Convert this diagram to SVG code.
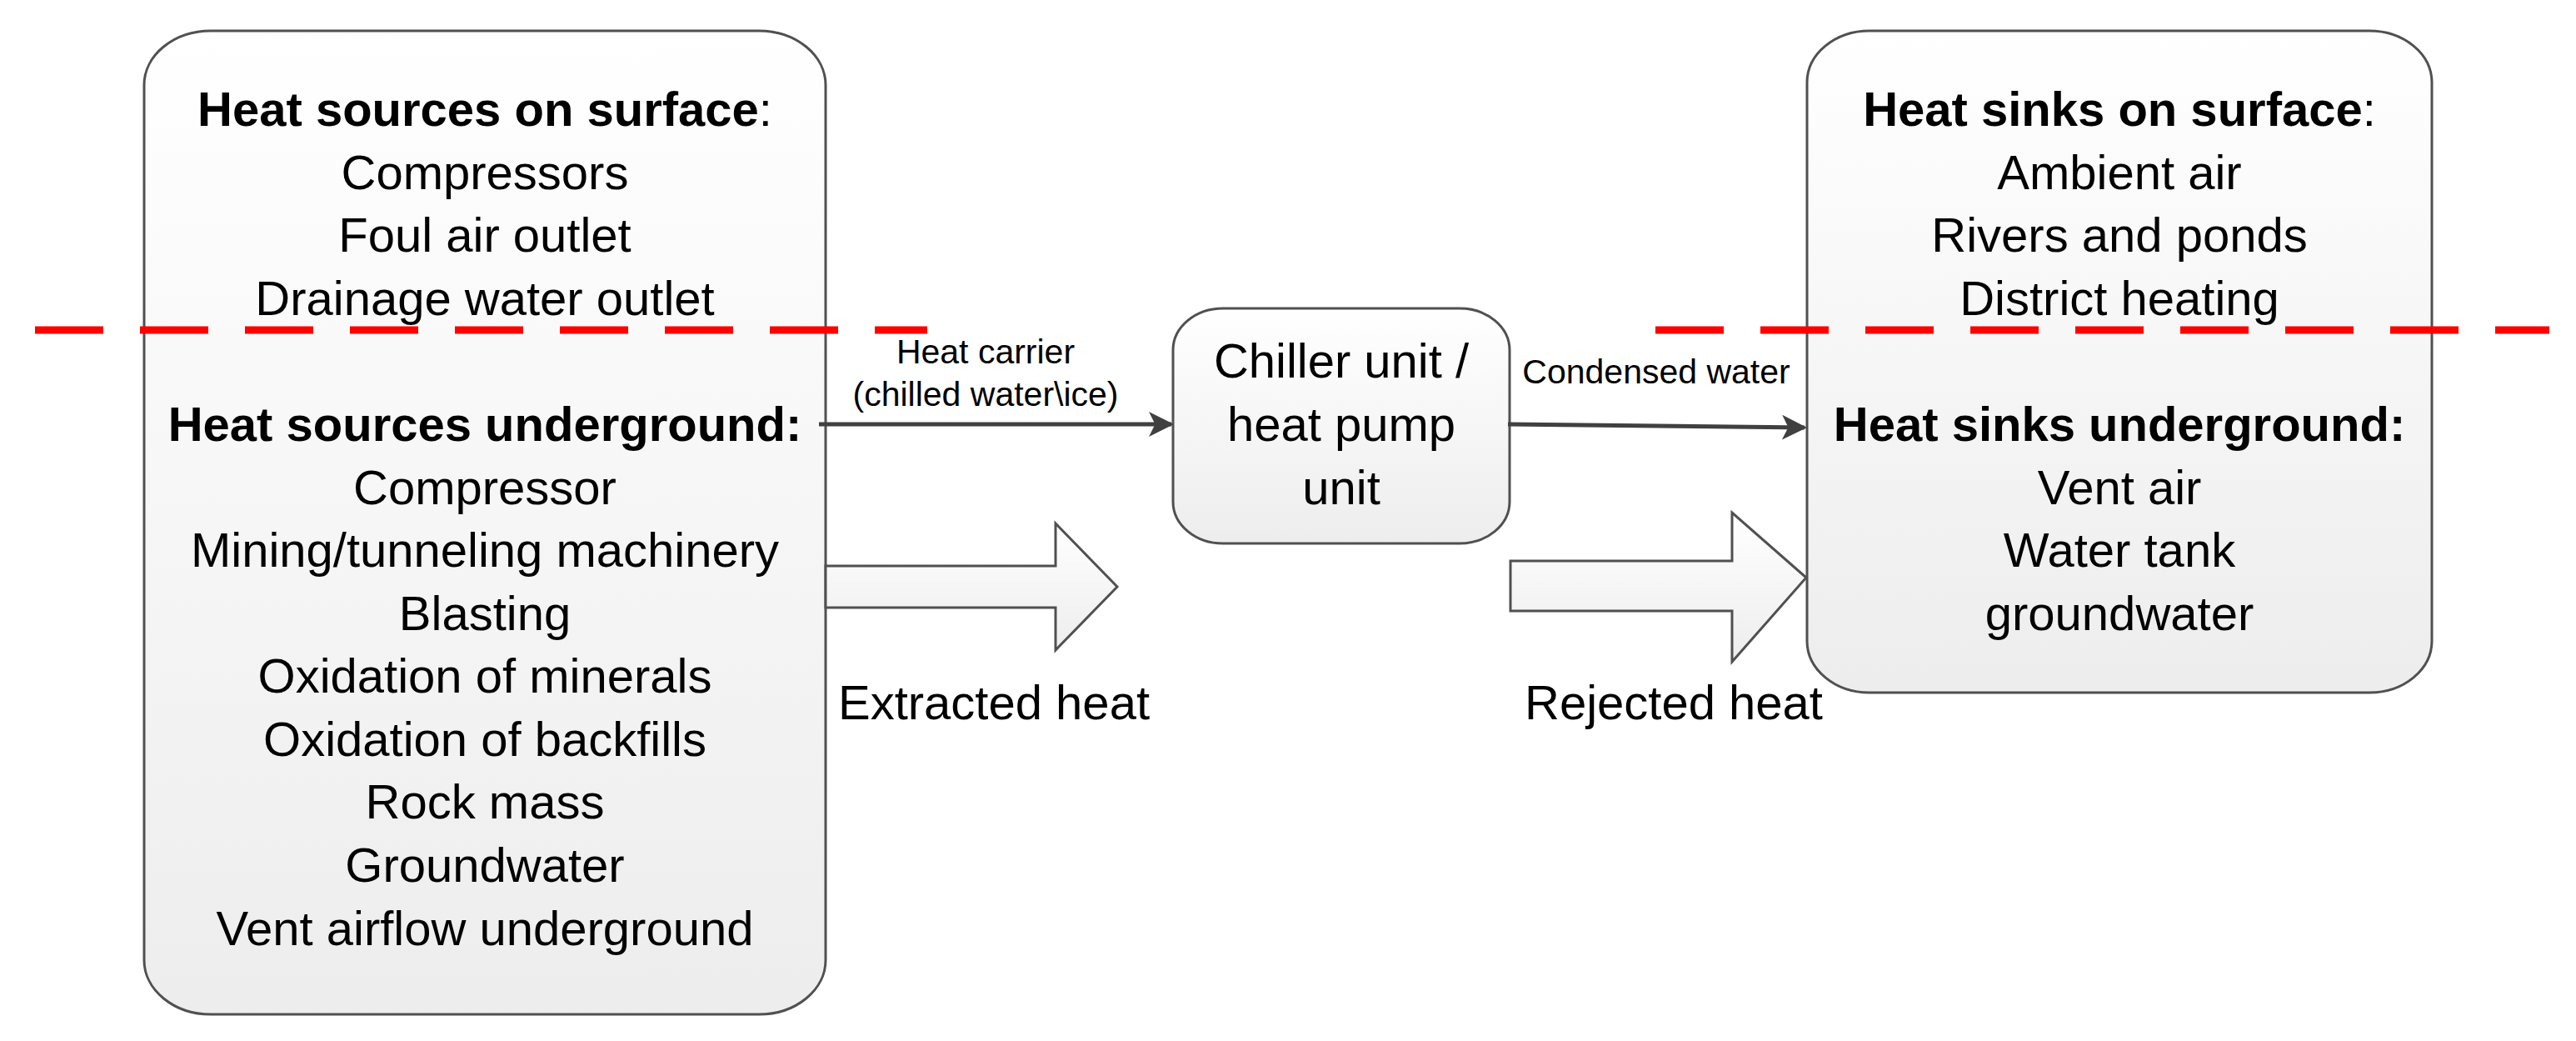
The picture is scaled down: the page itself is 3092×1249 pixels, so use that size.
<svg xmlns="http://www.w3.org/2000/svg" width="3092" height="1249" viewBox="0 0 3092 1249">
<style>
.box{stroke:#505050;stroke-width:3;fill:url(#g)}
.t{font-family:"Liberation Sans",Arial,sans-serif;font-size:58px;text-anchor:middle;fill:#000}
.b{font-weight:bold}
.s{font-family:"Liberation Sans",Arial,sans-serif;font-size:41px;text-anchor:middle;fill:#000}
.l{font-family:"Liberation Sans",Arial,sans-serif;font-size:58px;fill:#000}
.c{stroke:#404040;stroke-width:5;fill:none;marker-end:url(#ah)}
.dash{stroke:#ff0000;stroke-width:9;stroke-dasharray:82 44;fill:none}
</style>
<defs>
<linearGradient id="g" x1="0" y1="0" x2="0" y2="1"><stop offset="0" stop-color="#ffffff"/><stop offset="1" stop-color="#ededed"/></linearGradient>
<marker id="ah" viewBox="0 0 10 10" refX="9" refY="5" markerWidth="6" markerHeight="6" orient="auto" markerUnits="strokeWidth"><path d="M0,0 L10,5 L0,10 L2.5,5 z" fill="#404040"/></marker>
</defs>
<rect width="3092" height="1249" fill="#fff"/>
<g id="sources">
<rect class="box" x="173" y="37" width="818" height="1180" rx="80" ry="65"/>
<text class="t" x="582" y="151"><tspan class="b">Heat sources on surface</tspan>:</text>
<text class="t" x="582" y="227">Compressors</text>
<text class="t" x="582" y="302">Foul air outlet</text>
<text class="t" x="582" y="378">Drainage water outlet</text>
<text class="t b" x="582" y="529">Heat sources underground:</text>
<text class="t" x="582" y="605">Compressor</text>
<text class="t" x="582" y="680">Mining/tunneling machinery</text>
<text class="t" x="582" y="756">Blasting</text>
<text class="t" x="582" y="831">Oxidation of minerals</text>
<text class="t" x="582" y="907">Oxidation of backfills</text>
<text class="t" x="582" y="982">Rock mass</text>
<text class="t" x="582" y="1058">Groundwater</text>
<text class="t" x="582" y="1134">Vent airflow underground</text>
</g>
<g id="chiller">
<rect class="box" x="1408" y="370" width="404" height="282" rx="60" ry="50"/>
<text class="t" x="1610" y="453">Chiller unit /</text>
<text class="t" x="1610" y="529">heat pump</text>
<text class="t" x="1610" y="605">unit</text>
</g>
<g id="sinks">
<rect class="box" x="2169" y="37" width="750" height="794" rx="75" ry="62"/>
<text class="t" x="2544" y="151"><tspan class="b">Heat sinks on surface</tspan>:</text>
<text class="t" x="2544" y="227">Ambient air</text>
<text class="t" x="2544" y="302">Rivers and ponds</text>
<text class="t" x="2544" y="378">District heating</text>
<text class="t b" x="2544" y="529">Heat sinks underground:</text>
<text class="t" x="2544" y="605">Vent air</text>
<text class="t" x="2544" y="680">Water tank</text>
<text class="t" x="2544" y="756">groundwater</text>
</g>
<g id="connectors">
<path class="c" d="M983,509 H1406"/>
<path class="c" d="M1810,509 L2166,513"/>
<path d="M991,679 H1267 V628 L1341,704 L1267,780 V729 H991 Z" fill="url(#g)" stroke="#505050" stroke-width="3"/>
<path d="M1813,673 H2079 V615 L2168,693 L2079,794 V733 H1813 Z" fill="url(#g)" stroke="#505050" stroke-width="3"/>
<text class="s" x="1183" y="436">Heat carrier</text>
<text class="s" x="1183" y="487">(chilled water\ice)</text>
<text class="s" x="1988" y="460">Condensed water</text>
<text class="l" x="1006" y="863">Extracted heat</text>
<text class="l" x="1830" y="863">Rejected heat</text>
</g>
<g id="boundary">
<path class="dash" d="M42,396 H1113"/>
<path class="dash" d="M1987,396 H3060"/>
</g>
</svg>
